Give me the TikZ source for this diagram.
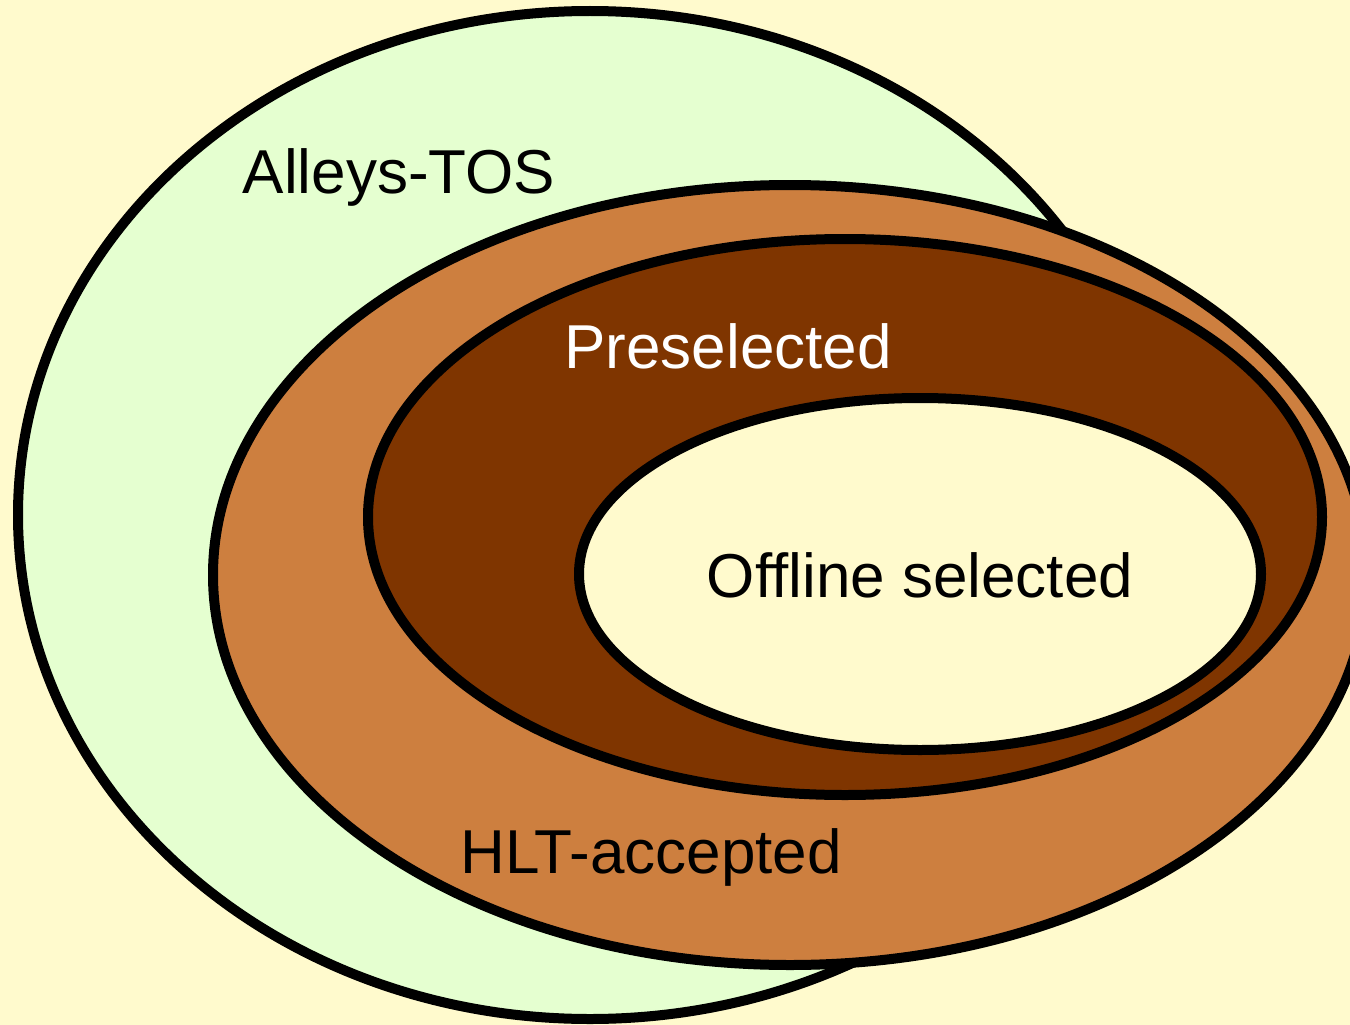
\documentclass[tikz,border=0pt]{standalone}
\usepackage{fontspec}
\setmainfont{Liberation Sans}
\definecolor{bgyellow}{RGB}{255,250,205}
\definecolor{tosgreen}{RGB}{229,255,208}
\definecolor{hltorange}{RGB}{205,127,63}
\definecolor{prebrown}{RGB}{127,53,0}
\tikzset{
  setline/.style={draw=black, line width=10pt},
  setlabel/.style={anchor=base, inner sep=0pt, font=\fontsize{62}{70}\selectfont}
}
\begin{document}
\begin{tikzpicture}[x=1pt, y=-1pt]
\useasboundingbox (0,0) rectangle (1350,1025);
\clip (0,0) rectangle (1350,1025);
\fill[bgyellow] (0,0) rectangle (1350,1025);
% sets
\path[setline, fill=tosgreen] (590,515) ellipse [x radius=572pt, y radius=504pt];
\path[setline, fill=hltorange] (790,575) ellipse [x radius=577pt, y radius=390pt];
\path[setline, fill=prebrown] (845,517) ellipse [x radius=477pt, y radius=278pt];
\path[setline, fill=bgyellow] (920,574) ellipse [x radius=341pt, y radius=176pt];
% labels
\node[setlabel, text=black] (tos) at (399,193) {Alleys-TOS};
\node[setlabel, text=white] (pre) at (728,368) {Preselected};
\node[setlabel, text=black] (off) at (920,597) {Offline selected};
\node[setlabel, text=black] (hlt) at (651,873) {HLT-accepted};
\end{tikzpicture}
\end{document}
